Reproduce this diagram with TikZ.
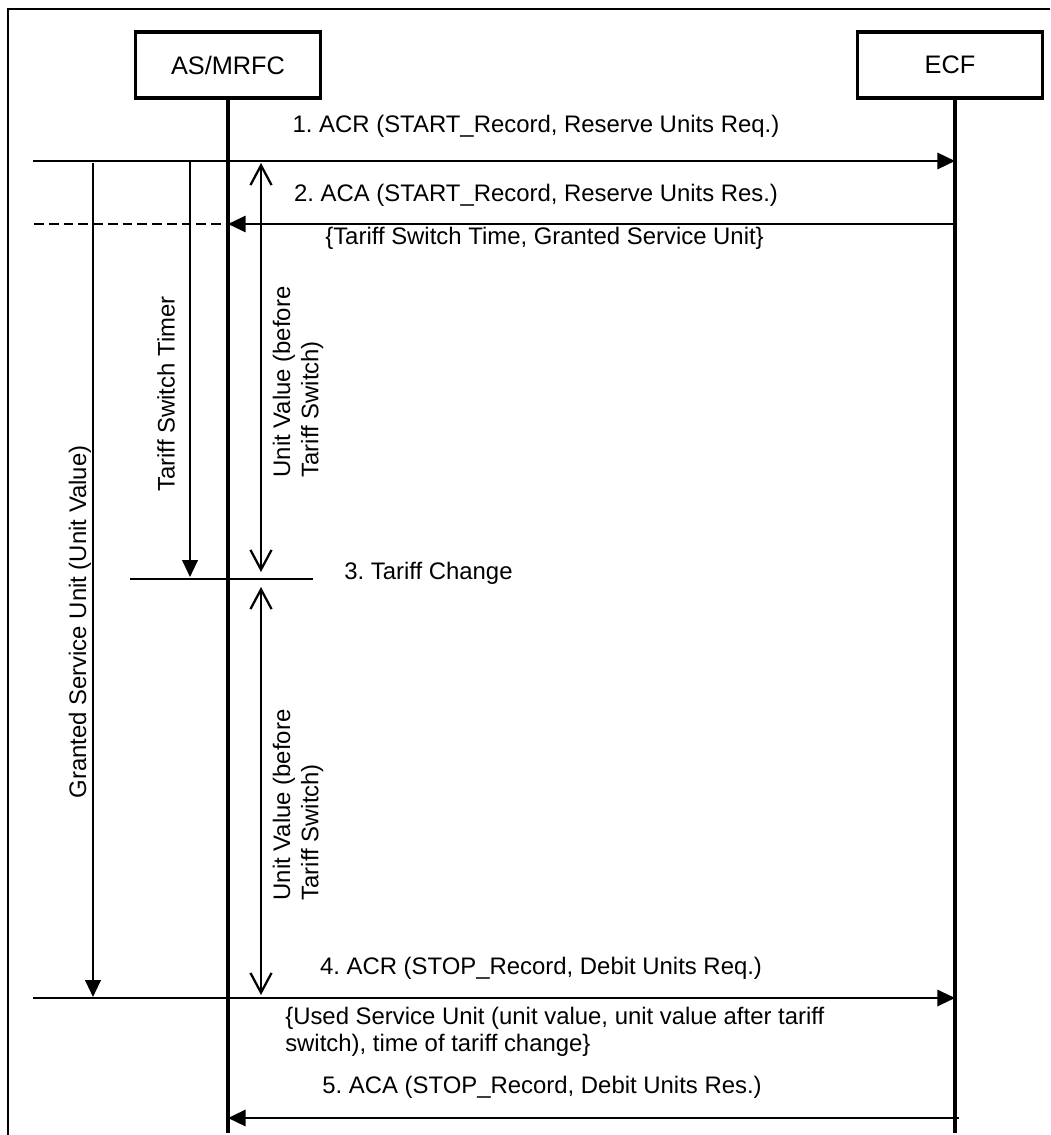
\documentclass[tikz,border=0pt]{standalone}
\usepackage{fontspec}
\setmainfont{Liberation Sans}
\usetikzlibrary{arrows.meta}
\frenchspacing

\begin{document}
\begin{tikzpicture}[x=0.025cm,y=-0.025cm,font=\fontsize{17}{19}\selectfont,
 entity/.style={draw,line width=2.5pt,minimum width=4.62cm,minimum height=1.65cm,font=\fontsize{18}{21}\selectfont},
 lifeline/.style={line width=2.6pt},
 msg/.style={-{Triangle[length=12.5pt,width=11.5pt]},line width=1.9pt},
 ext/.style={line width=1pt},
 interval/.style={line width=1.6pt},
 twoway/.style={interval,{Straight Barb[length=14pt,width=15pt]}-{Straight Barb[length=14pt,width=15pt]}},
 txt/.style={inner sep=0pt}]
\useasboundingbox (0,0) rectangle (1050,1135);
% frame
\coordinate (fbl) at (8,1135);\coordinate (ftr) at (1050,9);
\draw[line width=1.1pt] (fbl) |- (ftr);
% entities and lifelines
\node[entity] (asmrfc) at (228,65) {AS/MRFC};
\node[entity] (ecf) at (950,65) {ECF};
\coordinate (asend) at (228,1133);\coordinate (ecfend) at (955,1133);
\draw[lifeline] (asmrfc.south) -- (asend);
\draw[lifeline] (ecf.south -| ecfend) -- (ecfend);
% 1. ACR start
\coordinate (l1) at (33,161);\coordinate (a1) at (228,161);\coordinate (e1) at (955,161);
\draw[ext] (l1) -- (a1);
\draw[msg] (a1) -- (e1);
\node[txt] (m1) at (536,126) {1. ACR (START\_Record, Reserve Units Req.)};
% 2. ACA start
\coordinate (l2) at (34,224);\coordinate (a2) at (228,224);\coordinate (e2) at (955,224);
\draw[interval,dash pattern=on 7pt off 3.5pt] (l2) -- (a2);
\draw[msg,line width=1.6pt] (e2) -- (a2);
\node[txt] (m2) at (536,195) {2. ACA (START\_Record, Reserve Units Res.)};
\node[txt,anchor=west] (m2b) at (325,238) {\{Tariff Switch Time, Granted Service Unit\}};
% 3. tariff change
\coordinate (t1) at (130,579);\coordinate (t2) at (313,579);
\draw[ext] (t1) -- (t2);
\node[txt,anchor=west] (m3) at (344,573) {3. Tariff Change};
% 4. ACR stop
\coordinate (l4) at (33,998);\coordinate (a4) at (228,998);\coordinate (e4) at (955,998);
\draw[interval] (l4) -- (a4);
\draw[msg,line width=1.6pt] (a4) -- (e4);
\node[txt] (m4) at (541,968) {4. ACR (STOP\_Record, Debit Units Req.)};
\node[txt,anchor=west,align=left] (m4b) at (285,1032) {\{Used Service Unit (unit value, unit value after tariff\\switch), time of tariff change\}};
% 5. ACA stop
\coordinate (a5) at (228,1118);\coordinate (e5) at (959,1118);
\draw[msg] (e5) -- (a5);
\node[txt] (m5) at (542,1087) {5. ACA (STOP\_Record, Debit Units Res.)};
% timers and unit values
\coordinate (g1) at (93,163);\coordinate (g2) at (93,997);
\draw[interval,-{Triangle[length=12pt,width=11pt]}] (g1) -- (g2);
\node[txt,rotate=90] (gsu) at (80,622) {Granted Service Unit (Unit Value)};
\coordinate (s1) at (190,160);\coordinate (s2) at (190,577);
\draw[interval,-{Triangle[length=12pt,width=11pt]}] (s1) -- (s2);
\node[txt,rotate=90] (tst) at (166,394) {Tariff Switch Timer};
\coordinate (u1) at (261,163);\coordinate (u2) at (261,572);
\coordinate (u3) at (261,587);\coordinate (u4) at (261,995);
\draw[twoway] (u1) -- (u2);
\draw[twoway] (u3) -- (u4);
\node[txt,rotate=90,align=left] (uv1) at (298,382) {Unit Value (before\\[1pt]Tariff Switch)};
\node[txt,rotate=90,align=left] (uv2) at (298,805) {Unit Value (before\\[1pt]Tariff Switch)};
\end{tikzpicture}
\end{document}
